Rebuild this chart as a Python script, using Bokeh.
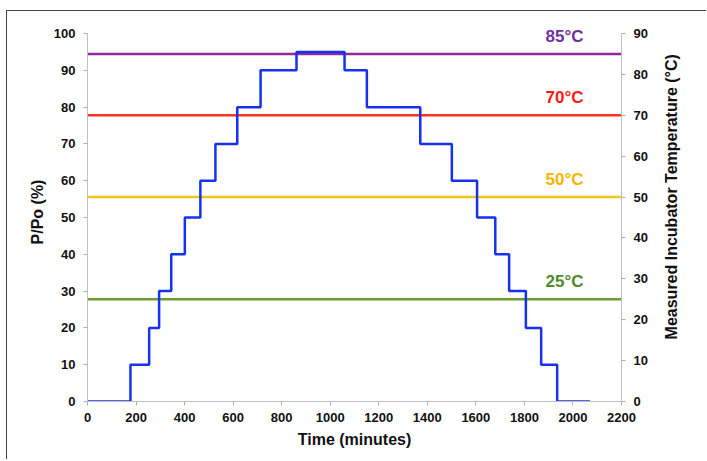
import math
from bokeh.plotting import figure
from bokeh.models import Range1d, LinearAxis, FixedTicker
from bokeh.layouts import row
from bokeh.core.properties import value
from bokeh.embed import file_html
from bokeh.resources import INLINE

# Step profile: time (minutes) at which each level starts, and P/Po (%) level
step_times = [0, 177, 254, 295, 345, 401, 465, 527, 617, 713, 861, 1059, 1151,
              1371, 1501, 1605, 1680, 1737, 1806, 1869, 1935, 2070]
step_levels = [0, 10, 20, 30, 40, 50, 60, 70, 80, 90, 95, 90, 80,
               70, 60, 50, 40, 30, 20, 10, 0, 0]

# Incubator temperatures (°C, right axis)
temps = [85, 70, 50, 25]
temp_labels = ["85°C", "70°C", "50°C", "25°C"]
line_colors = ["#8e2a9c", "#ff3426", "#f5c818", "#6f9a34"]
text_colors = ["#7030a0", "#ff1a1a", "#f7b500", "#4f8a2b"]
label_time = 1965

x_ticks = list(range(0, 2201, 200))
left_ticks = list(range(0, 101, 10))
right_ticks = list(range(0, 91, 10))
right_title = "Measured Incubator Temperature (°C)"

FONT = "Liberation Sans"
HEAD = 1.03  # small headroom above the axes so the top label is not clipped

B_LEFT, B_RIGHT, B_TOP, B_BOTTOM = 80, 34, 11, 58
FW, FH = 534, 379

p = figure(frame_width=FW, frame_height=FH, output_backend="svg",
           toolbar_location=None, x_range=Range1d(0, 2200), y_range=Range1d(0, 100 * HEAD),
           min_border_left=B_LEFT, min_border_right=B_RIGHT,
           min_border_top=B_TOP, min_border_bottom=B_BOTTOM)
p.extra_y_ranges = {"temp": Range1d(0, 90 * HEAD)}
p.outline_line_color = None
p.grid.grid_line_color = None
p.background_fill_color = "white"
p.border_fill_color = "white"

for t, lc in zip(temps, line_colors):
    p.line([0, 2200], [t, t], y_range_name="temp", line_color=lc, line_width=2.5)

for t, lab, tc in zip(temps, temp_labels, text_colors):
    p.text([label_time], [t], text=[lab], y_range_name="temp", text_color=tc,
           text_font=value(FONT), text_font_style="bold", text_font_size="17px",
           text_align="center", text_baseline="bottom", y_offset=-8)

p.step(step_times, step_levels, mode="after", line_color="#1432f0", line_width=2.5)

def style_axis(ax):
    ax.axis_line_color = "#c0c0c0"
    ax.major_tick_line_color = "#b0b0b0"
    ax.major_tick_out = 4
    ax.major_tick_in = 0
    ax.minor_tick_line_color = None
    ax.major_label_text_font = FONT
    ax.major_label_text_font_style = "bold"
    ax.major_label_text_font_size = "13px"
    ax.major_label_text_color = "#111111"
    ax.axis_label_text_font = FONT
    ax.axis_label_text_font_style = "bold"
    ax.axis_label_text_font_size = "16px"
    ax.axis_label_text_color = "#111111"

p.xaxis.ticker = FixedTicker(ticks=x_ticks)
p.yaxis.ticker = FixedTicker(ticks=left_ticks)
p.yaxis.bounds = (0, 100)
p.xaxis.axis_label = "Time (minutes)"
p.yaxis.axis_label = "P/Po (%)"
style_axis(p.xaxis[0])
style_axis(p.yaxis[0])
p.xaxis.major_label_standoff = 7
p.yaxis.major_label_standoff = 8
p.yaxis.axis_label_standoff = 5
p.xaxis.axis_label_standoff = 6

right = LinearAxis(y_range_name="temp", ticker=FixedTicker(ticks=right_ticks), bounds=(0, 90))
style_axis(right)
right.major_label_standoff = 8
p.add_layout(right, "right")

# companion figure carrying the right-axis title, reading bottom-to-top
SIDE_W = 51
total_h = B_TOP + FH + B_BOTTOM
axis_mid_from_top = B_TOP + FH * (1 - 50 / (100 * HEAD))
q = figure(width=SIDE_W, height=total_h, output_backend="svg", toolbar_location=None,
           x_range=Range1d(0, SIDE_W), y_range=Range1d(0, total_h),
           x_axis_type=None, y_axis_type=None,
           min_border_left=0, min_border_right=0, min_border_top=0, min_border_bottom=0)
q.outline_line_color = None
q.grid.grid_line_color = None
q.background_fill_color = "white"
q.border_fill_color = "white"
q.text([16], [total_h - axis_mid_from_top], text=[right_title], angle=math.pi / 2,
       text_align="center", text_baseline="middle", text_color="#111111",
       text_font=value(FONT), text_font_style="bold", text_font_size="16px")

layout = row(p, q, styles={"border-top": "1.5px solid #444", "border-left": "1.5px solid #444",
                           "margin-left": "6px", "margin-top": "10px",
                           "background-color": "white"})

open("out.html", "w").write(file_html(layout, INLINE))
